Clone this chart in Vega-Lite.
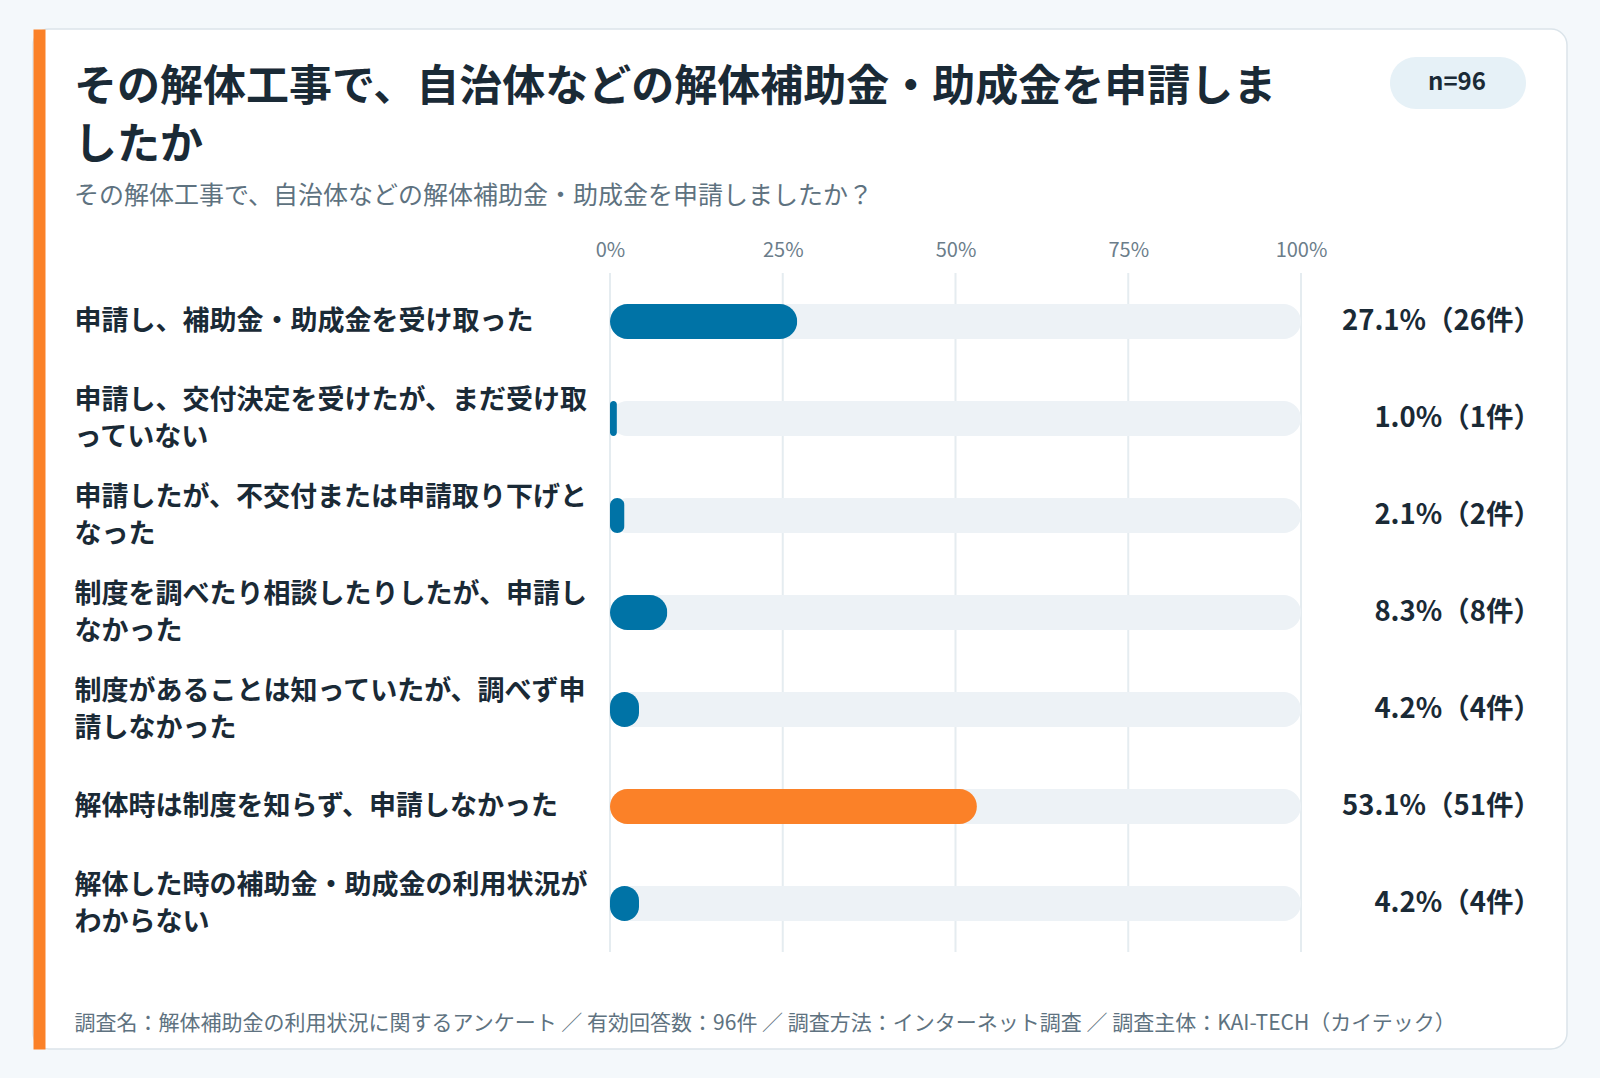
{
  "$schema": "https://vega.github.io/schema/vega-lite/v6.json",
  "width": 1534,
  "height": 1020,
  "autosize": {"type": "none"},
  "padding": {"left": 33, "top": 29, "right": 33, "bottom": 29},
  "background": "#f4f8fb",
  "title": {
    "text": ["その解体工事で、自治体などの解体補助金・助成金を申請しま", "したか"],
    "subtitle": "その解体工事で、自治体などの解体補助金・助成金を申請しましたか？",
    "anchor": "start",
    "frame": "group",
    "offset": 0,
    "dx": 41,
    "dy": 180,
    "font": "Noto Sans CJK JP",
    "fontSize": 43,
    "fontWeight": "bold",
    "color": "#1a2a36",
    "lineHeight": 58,
    "subtitleFont": "Noto Sans CJK JP",
    "subtitleFontSize": 25,
    "subtitleColor": "#5e7280",
    "subtitlePadding": 16
  },
  "data": {
    "values": [
      {"項目": "申請し、補助金・助成金を受け取った", "割合": 27.1, "件数": 26},
      {"項目": "申請し、交付決定を受けたが、まだ受け取っていない", "割合": 1.0, "件数": 1},
      {"項目": "申請したが、不交付または申請取り下げとなった", "割合": 2.1, "件数": 2},
      {"項目": "制度を調べたり相談したりしたが、申請しなかった", "割合": 8.3, "件数": 8},
      {"項目": "制度があることは知っていたが、調べず申請しなかった", "割合": 4.2, "件数": 4},
      {"項目": "解体時は制度を知らず、申請しなかった", "割合": 53.1, "件数": 51},
      {"項目": "解体した時の補助金・助成金の利用状況がわからない", "割合": 4.2, "件数": 4}
    ]
  },
  "layer": [
    {
      "mark": {"type": "tick", "opacity": 0},
      "encoding": {
        "y": {
          "field": "割合",
          "type": "quantitative",
          "scale": {"domain": [0, 100]},
          "axis": {
            "orient": "left",
            "offset": -6,
            "domain": true,
            "domainColor": "#fb8128",
            "domainWidth": 12,
            "labels": false,
            "ticks": false,
            "grid": false,
            "title": null
          }
        }
      }
    },
    {
      "layer": [
        {
          "data": {"values": [{"目盛": 0}, {"目盛": 25}, {"目盛": 50}, {"目盛": 75}, {"目盛": 100}]},
          "mark": {"type": "rule", "color": "#e5ecf0", "strokeWidth": 2},
          "encoding": {
            "x": {"field": "目盛", "type": "quantitative"},
            "y": {"datum": "申請し、補助金・助成金を受け取った", "type": "nominal", "bandPosition": 0},
            "y2": {"datum": "解体した時の補助金・助成金の利用状況がわからない", "bandPosition": 1}
          }
        },
        {
          "mark": {"type": "bar", "color": "#edf2f6", "cornerRadius": 17.5, "height": 35},
          "encoding": {
            "y": {"field": "項目", "type": "nominal"},
            "x": {"datum": 0, "type": "quantitative"},
            "x2": {"datum": 100}
          }
        },
        {
          "transform": [
            {"joinaggregate": [{"op": "max", "field": "割合", "as": "最大"}]},
            {"calculate": "datum['割合'] == datum['最大'] ? '最多' : 'その他'", "as": "区分"}
          ],
          "mark": {"type": "bar", "cornerRadius": 17.5, "height": 35},
          "encoding": {
            "x": {
              "field": "割合",
              "type": "quantitative",
              "scale": {"domain": [0, 100], "range": [577, 1268], "nice": false},
              "axis": {
                "orient": "top",
                "offset": -221,
                "values": [0, 25, 50, 75, 100],
                "labelExpr": "datum.value + '%'",
                "labelFontSize": 20,
                "labelColor": "#6b7d8a",
                "labelBaseline": "middle",
                "labelPadding": 0,
                "labelFlush": false,
                "labelOverlap": false,
                "ticks": false,
                "tickSize": 0,
                "domain": false,
                "grid": false,
                "title": "調査名：解体補助金の利用状況に関するアンケート ／ 有効回答数：96件 ／ 調査方法：インターネット調査 ／ 調査主体：KAI-TECH（カイテック）",
                "titleX": 41,
                "titleY": 773,
                "titleAlign": "left",
                "titleAnchor": "start",
                "titleBaseline": "middle",
                "titleFontSize": 21,
                "titleFontWeight": "normal",
                "titleColor": "#5e7280"
              }
            },
            "y": {
              "field": "項目",
              "type": "nominal",
              "scale": {
                "domain": [
                  "申請し、補助金・助成金を受け取った",
                  "申請し、交付決定を受けたが、まだ受け取っていない",
                  "申請したが、不交付または申請取り下げとなった",
                  "制度を調べたり相談したりしたが、申請しなかった",
                  "制度があることは知っていたが、調べず申請しなかった",
                  "解体時は制度を知らず、申請しなかった",
                  "解体した時の補助金・助成金の利用状況がわからない"
                ],
                "range": [244, 923],
                "paddingInner": 0,
                "paddingOuter": 0
              },
              "axis": {
                "orient": "left",
                "offset": -41,
                "domain": false,
                "ticks": false,
                "tickSize": 0,
                "grid": false,
                "title": null,
                "labelPadding": 0,
                "labelAlign": "left",
                "labelBaseline": "middle",
                "labelOffset": {"condition": {"test": "length(datum.value) > 19", "value": -18}, "value": 0},
                "labelFontSize": 27,
                "labelFontWeight": "bold",
                "labelColor": "#1a2a36",
                "labelLineHeight": 37,
                "labelLimit": 0,
                "labelExpr": "length(datum.value) > 19 ? [substring(datum.value, 0, 19), substring(datum.value, 19)] : datum.value"
              }
            },
            "color": {
              "field": "区分",
              "type": "nominal",
              "scale": {"domain": ["その他", "最多"], "range": ["#0073a6", "#fb8128"]},
              "legend": {
                "orient": "none",
                "legendX": 1357,
                "legendY": 28,
                "title": null,
                "values": ["最多"],
                "labelExpr": "'\u200a\u2003n=96\u2003\u200a\u2060'",
                "labelAlign": "left",
                "labelFontSize": 24,
                "labelFontWeight": "bold",
                "labelColor": "#1a2a36",
                "labelOffset": 0,
                "symbolSize": 0,
                "symbolOpacity": 0,
                "symbolStrokeWidth": 0,
                "fillColor": "#e6f1f7",
                "cornerRadius": 26,
                "padding": 14
              }
            }
          }
        },
        {
          "transform": [
            {"calculate": "format(datum['割合'], '.1f') + '%（' + datum['件数'] + '件）'", "as": "表示"}
          ],
          "mark": {"type": "text", "align": "right", "baseline": "middle", "dx": 240, "fontSize": 27.5, "fontWeight": "bold", "color": "#1a2a36"},
          "encoding": {
            "x": {"datum": 100, "type": "quantitative"},
            "y": {"field": "項目", "type": "nominal"},
            "text": {"field": "表示"}
          }
        }
      ]
    }
  ],
  "resolve": {"scale": {"y": "independent"}, "axis": {"y": "independent"}},
  "config": {
    "font": "Noto Sans CJK JP",
    "view": {"fill": "#ffffff", "stroke": "#dbe4ea", "strokeWidth": 1.5, "cornerRadius": 16}
  }
}
